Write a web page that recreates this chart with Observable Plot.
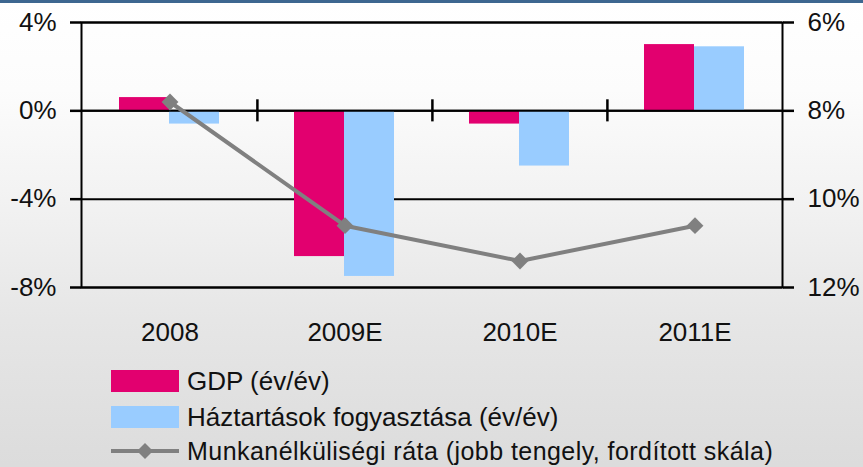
<!DOCTYPE html>
<html><head><meta charset="utf-8">
<script src="https://cdn.jsdelivr.net/npm/d3@7"></script>
<script src="https://cdn.jsdelivr.net/npm/@observablehq/plot@0.6"></script>
<style>
html,body{margin:0;padding:0;}
body{width:863px;height:467px;overflow:hidden;position:relative;box-sizing:border-box;border-top:3px solid #3d6790;
background:linear-gradient(#ffffff 0px,#fcfcfc 90px,#f2f2f2 200px,#e6e6e6 320px,#dcdcdc 464px);
font-family:"Liberation Sans",Arial,sans-serif;color:#111;}
#chart svg{display:block;}
.row{position:absolute;left:111px;height:30px;display:flex;align-items:center;font-size:26px;line-height:1;white-space:nowrap;}
.row span{line-height:1;}
.sw{width:68px;height:22px;margin-right:8px;flex:none;}
</style></head>
<body>
<div id="chart"></div>
<div class="row" style="top:363px"><div class="sw" style="background:#e2006f"></div><span>GDP (év/év)</span></div>
<div class="row" style="top:399px"><div class="sw" style="background:#99ccff"></div><span>Háztartások fogyasztása (év/év)</span></div>
<div class="row" style="top:433px"><svg width="68" height="22" style="margin-right:8px;flex:none"><line x1="0" x2="68" y1="11" y2="11" stroke="#808080" stroke-width="4"/><path d="M34,3 L42,11 L34,19 L26,11 Z" fill="#808080"/></svg><span style="font-size:25px;letter-spacing:0.45px">Munkanélküliségi ráta (jobb tengely, fordított skála)</span></div>
<script>
const years = ["2008", "2009E", "2010E", "2011E"];
const gdp = [0.6, -6.6, -0.6, 3.0];
const consumption = [-0.6, -7.5, -2.5, 2.9];
const unemployment = [7.8, 10.6, 11.4, 10.6];
const leftTicks = [4, 0, -4, -8];

// right axis (inverted): 6% at top, 12% at bottom, mapped onto left scale
const toLeft = u => (8 - u) * 2;
const fromLeft = v => 8 - v / 2;

const table = years.map((year, i) => ({
  year, gdp: gdp[i], cons: consumption[i], unemp: unemployment[i]
}));

const chart = Plot.plot({
  width: 863,
  height: 360,
  marginLeft: 81,
  marginRight: 81,
  marginTop: 19,
  marginBottom: 76,
  style: {background: "transparent", fontFamily: "'Liberation Sans', Arial, sans-serif", fontSize: "26px", color: "#111", overflow: "visible"},
  x: {type: "band", domain: years, padding: 0, label: null},
  y: {domain: [-8, 4], label: null},
  marks: [
    Plot.ruleY(leftTicks, {stroke: "#000", strokeWidth: 2}),
    Plot.barY(table, {x: "year", y: "gdp", fill: "#e2006f", insetLeft: 37, insetRight: 88}),
    Plot.barY(table, {x: "year", y: "cons", fill: "#99ccff", insetLeft: 87, insetRight: 38}),
    Plot.ruleY([0], {stroke: "#000", strokeWidth: 2}),
    Plot.frame({stroke: "#000", strokeWidth: 2}),
    Plot.ruleX(years.slice(1), {x: d => d, dx: -87.6, y1: 0.5, y2: -0.5, stroke: "#000", strokeWidth: 2.5}),
    Plot.line(table, {x: "year", y: d => toLeft(d.unemp), stroke: "#808080", strokeWidth: 4}),
    Plot.dot(table, {x: "year", y: d => toLeft(d.unemp), symbol: "diamond2", r: 7.6, fill: "#808080", stroke: "none"}),
    Plot.axisY(leftTicks, {anchor: "left", tickSize: 11, tickPadding: 14, strokeWidth: 2.5, stroke: "#000", tickFormat: d => d + "%", label: null}),
    Plot.axisY(leftTicks, {anchor: "right", tickSize: 11, tickPadding: 14, strokeWidth: 2.5, stroke: "#000", tickFormat: d => fromLeft(d) + "%", label: null}),
    Plot.axisX(years, {anchor: "bottom", tickSize: 0, tickPadding: 35, label: null})
  ]
});
document.getElementById("chart").appendChild(chart);
</script>
</body></html>
